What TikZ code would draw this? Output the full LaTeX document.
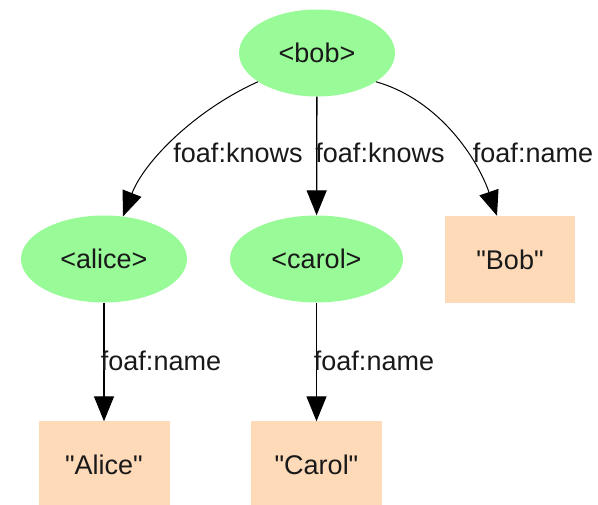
\documentclass[tikz,border=0pt]{standalone}
\usepackage{fontspec}
\setmainfont{Liberation Sans}[Ligatures=TeXOff]
\usetikzlibrary{arrows.meta,shapes.geometric}
\definecolor{resnode}{HTML}{98FB98}
\definecolor{litnode}{HTML}{FFDAB9}
\begin{document}
\begin{tikzpicture}[x=1pt,y=-1pt,
  every node/.style={font=\fontsize{27}{32}\selectfont, text=black!90},
  res/.style={ellipse, fill=resnode, inner sep=0pt, minimum height=87pt},
  lit/.style={rectangle, fill=litnode, inner sep=0pt, minimum width=131pt, minimum height=87pt},
  edgelbl/.style={anchor=base, inner sep=0pt},
  arc/.style={line width=1.3pt, -{Triangle[length=25pt,width=20pt]}},
  curvedarc/.style={line width=1pt, -{Triangle[length=25pt,width=20pt]}}]
\useasboundingbox (0,0) rectangle (598,505);
\clip (0,0) rectangle (598,505);
% nodes
\node[res, minimum width=156pt] (bob) at (317,53) {<bob>};
\node[res, minimum width=166pt] (alice) at (104,259) {<alice>};
\node[res, minimum width=173pt] (carol) at (316.5,259) {<carol>};
\node[lit, minimum width=130pt] (bobl) at (510,259.5) {"Bob"};
\node[lit] (alicel) at (104,465) {"Alice"};
\node[lit] (caroll) at (316.5,465) {"Carol"};
% edges
\draw[curvedarc] (bob.206) .. controls (197,109) and (145,160) .. (alice.66);
\draw[arc] (bob) -- (carol);
\draw[curvedarc] (bob.-26) .. controls (440,100) and (478,160) .. ([xshift=-13pt]bobl.north);
\draw[arc] (alice) -- (alicel);
\draw[arc] (carol) -- (caroll);
% edge labels
\node[edgelbl] (l1) at (238,163) {foaf:knows};
\node[edgelbl] (l2) at (380,163) {foaf:knows};
\node[edgelbl] (l3) at (533,163) {foaf:name};
\node[edgelbl] (l4) at (161,371) {foaf:name};
\node[edgelbl] (l5) at (374,371) {foaf:name};
\end{tikzpicture}
\end{document}
